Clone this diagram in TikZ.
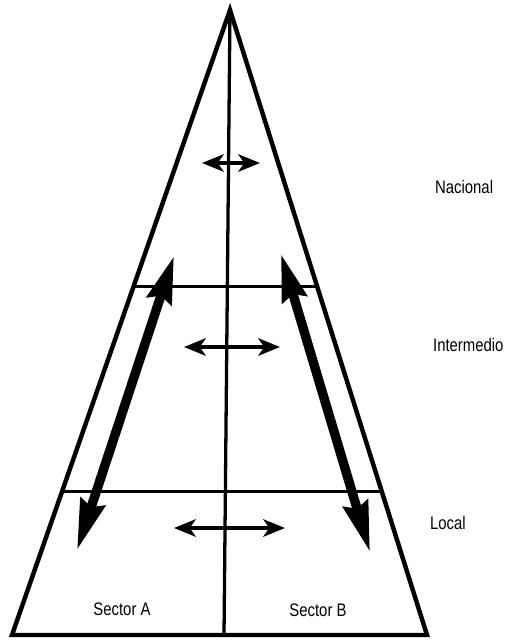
\documentclass[tikz,border=0pt]{standalone}
\usepackage{fontspec}
\newfontfamily\labelfont{Liberation Sans}[FakeStretch=0.82]
\usepackage{tikz}
\usetikzlibrary{arrows.meta, positioning, calc}
\tikzset{
    edge/.style={line width=3.8pt, draw=black, line cap=round, line join=miter},
    divider/.style={line width=2.8pt, draw=black},
    exchange/.style={{Stealth[length=6.5mm, width=5.2mm, inset=1.8mm]}-{Stealth[length=6.5mm, width=5.2mm, inset=1.8mm]}, line width=4pt},
    flow/.style={{Stealth[length=14mm, width=7.5mm, inset=1.5mm]}-{Stealth[length=15mm, width=7.5mm, inset=1.5mm]}, line width=8pt},
    level/.style={font=\labelfont\fontsize{15.5}{17}\selectfont, anchor=west},
    sector/.style={font=\labelfont\fontsize{15.5}{17}\selectfont},
}
\begin{document}
\begin{tikzpicture}[x=0.03cm, y=-0.03cm]
    \useasboundingbox (0,0) rectangle (505,641);

    % Pyramid outline
    \coordinate (apex) at (230,10);
    \coordinate (bl) at (12,635);
    \coordinate (br) at (427,635);
    \coordinate (bm) at (224,635);
    \draw[edge] (bl) -- (apex) -- (br) -- cycle;
    \draw[divider] (apex) -- (bm);

    % Level dividers
    \coordinate (il) at ($(apex)!0.442!(bl)$);
    \coordinate (ir) at ($(apex)!0.442!(br)$);
    \coordinate (ll) at ($(apex)!0.77!(bl)$);
    \coordinate (lr) at ($(apex)!0.77!(br)$);
    \draw[divider] (il) -- (ir);
    \draw[divider] (ll) -- (lr);

    % Exchange between sectors
    \coordinate (nacL) at (202,163);
    \coordinate (nacR) at (260,163);
    \coordinate (intL) at (184,347);
    \coordinate (intR) at (280,347);
    \coordinate (locL) at (174,528);
    \coordinate (locR) at (285,528);
    \draw[exchange] (nacL) -- (nacR);
    \draw[exchange] (intL) -- (intR);
    \draw[exchange] (locL) -- (locR);

    % Vertical flows
    \coordinate (aTop) at (174,256);
    \coordinate (aBot) at (77,550);
    \coordinate (bTop) at (281,254);
    \coordinate (bBot) at (370,552);
    \draw[flow] (aTop) -- (aBot);
    \draw[flow] (bTop) -- (bBot);

    % Labels
    \node[level] (nacional) at (431,187) {Nacional};
    \node[level] (intermedio) at (429,345) {Intermedio};
    \node[level] (local) at (426,523) {Local};
    \node[sector] (secA) at (122,609) {Sector A};
    \node[sector] (secB) at (318,610) {Sector B};
\end{tikzpicture}
\end{document}
